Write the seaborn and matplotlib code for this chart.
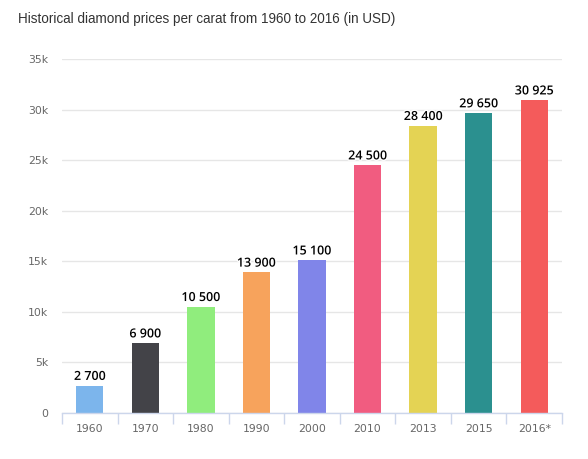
import matplotlib
matplotlib.use("Agg")
import matplotlib.pyplot as plt
import matplotlib.patheffects as pe
from matplotlib.ticker import FixedLocator, FuncFormatter
import seaborn as sns
import pandas as pd

years = ["1960", "1970", "1980", "1990", "2000", "2010", "2013", "2015", "2016*"]
prices = [2700, 6900, 10500, 13900, 15100, 24500, 28400, 29650, 30925]
colors = ["#7cb5ec", "#434348", "#90ed7d", "#f7a35c", "#8085e9",
          "#f15c80", "#e4d354", "#2b908f", "#f45b5b"]
title = "Historical diamond prices per carat from 1960 to 2016 (in USD)"

df = pd.DataFrame({"year": years, "price": prices})

sns.set_style("white")
plt.rcParams["font.family"] = ["DejaVu Sans"]

fig = plt.figure(figsize=(5.88, 4.59), dpi=100)
W, H = 588, 459
ax = fig.add_axes([62 / W, (H - 413) / H, 500 / W, 354 / H])

sns.barplot(data=df, x="year", y="price", hue="year", palette=colors,
            legend=False, width=0.49, ax=ax, saturation=1, linewidth=0)

ax.set_ylim(0, 35000)
ax.set_xlim(-0.5, len(years) - 0.5)
ax.set_yticks(range(0, 35001, 5000))
ax.yaxis.set_major_formatter(FuncFormatter(lambda v, p: "0" if v == 0 else f"{int(v/1000)}k"))
ax.grid(axis="y", color="#e6e6e6", linewidth=1)
ax.set_axisbelow(True)
for s in ["top", "right", "left"]:
    ax.spines[s].set_visible(False)
ax.spines["bottom"].set_color("#ccd6eb")
ax.spines["bottom"].set_linewidth(1)

ax.tick_params(axis="y", length=0, pad=10, labelsize=7.8, labelcolor="#666666")
ax.tick_params(axis="x", which="major", length=0, pad=8, labelsize=7.8, labelcolor="#666666")
ax.xaxis.set_minor_locator(FixedLocator([i - 0.5 for i in range(len(years) + 1)]))
ax.tick_params(axis="x", which="minor", bottom=True, length=8, color="#ccd6eb", width=1)
ax.set_xlabel("")
ax.set_ylabel("")

def fmt(v):
    s = f"{int(round(v)):,}"
    return s.replace(",", " ")

for cont in ax.containers:
    labels = ax.bar_label(cont, fmt=fmt, padding=2, fontsize=9, fontweight="semibold",
                          color="#000000", family="Open Sans")
    for t in labels:
        t.set_path_effects([pe.withStroke(linewidth=2, foreground="white")])

fig.text(18 / W, 1 - 19 / H, title, fontsize=9.75, color="#333333",
         va="center", ha="left", family="Liberation Sans")

fig.savefig("out.png", dpi=100)
